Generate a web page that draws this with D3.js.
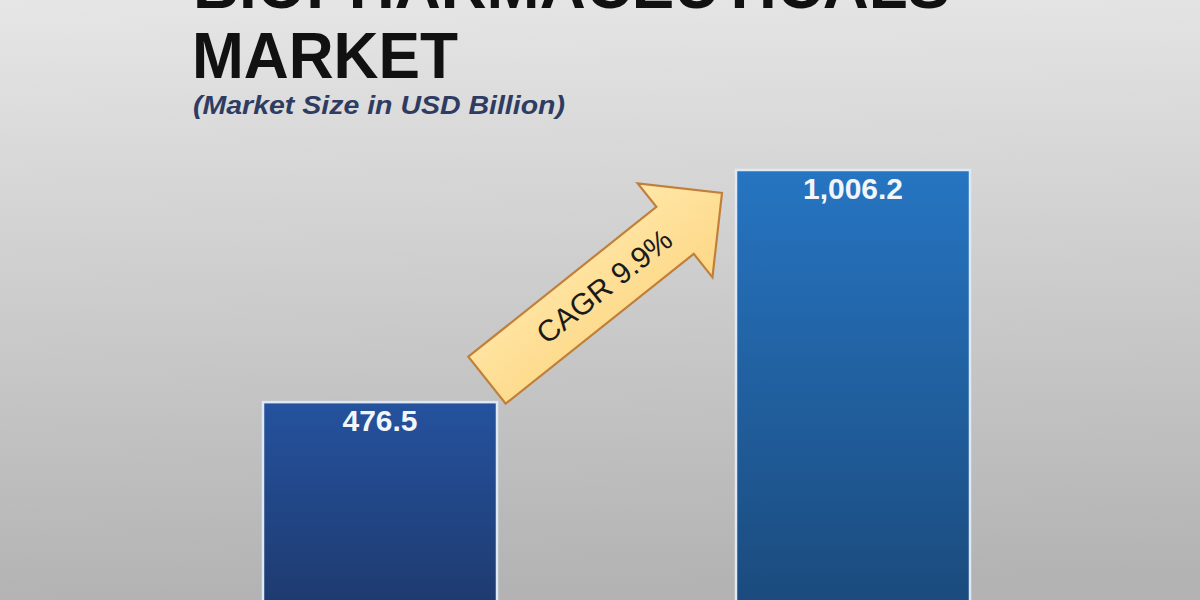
<!DOCTYPE html>
<html>
<head>
<meta charset="utf-8">
<script src="https://cdn.jsdelivr.net/npm/d3@7"></script>
<style>
  html, body { margin: 0; padding: 0; background: #ddd; }
  svg { display: block; }
</style>
</head>
<body>
<svg id="chart" width="1200" height="600"></svg>
<script>
// ---- data ----
const categories = ["Start year", "End year"];
const values = [476.5, 1006.2];
const valueLabels = ["476.5", "1,006.2"];
const titleLines = ["BIOPHARMACEUTICALS", "MARKET"];
const subtitle = "(Market Size in USD Billion)";
const cagrLabel = "CAGR 9.9%";

const W = 1200, H = 600;
const svg = d3.select("#chart");
const defs = svg.append("defs");

// background gradient
const bg = defs.append("linearGradient").attr("id", "bg")
  .attr("x1", 0).attr("y1", 0).attr("x2", 0.05).attr("y2", 1);
bg.append("stop").attr("offset", "0%").attr("stop-color", "#e6e6e6");
bg.append("stop").attr("offset", "100%").attr("stop-color", "#b3b3b3");
svg.append("rect").attr("width", W).attr("height", H).attr("fill", "url(#bg)");

// bar gradients
const barColors = [["#25529e", "#1e3a6e"], ["#2675c2", "#1b4a7c"]];
barColors.forEach((c, i) => {
  const g = defs.append("linearGradient").attr("id", "bar" + i)
    .attr("x1", 0).attr("y1", 0).attr("x2", 0).attr("y2", 1);
  g.append("stop").attr("offset", "0%").attr("stop-color", c[0]);
  g.append("stop").attr("offset", "100%").attr("stop-color", c[1]);
});
const ag = defs.append("linearGradient").attr("id", "arrowFill")
  .attr("x1", 0).attr("y1", 0).attr("x2", 0).attr("y2", 1);
ag.append("stop").attr("offset", "0%").attr("stop-color", "#ffe7a8");
ag.append("stop").attr("offset", "100%").attr("stop-color", "#fdd785");

// scales
const x = d3.scaleBand().domain(categories).range([263, 970])
  .paddingInner(239 / 473).paddingOuter(0);
const y = d3.scaleLinear().domain([0, d3.max(values)]).range([611, 170]);

// titles (first line is cropped at the top edge, as in the reference)
svg.append("text").attr("x", 193).attr("y", 8)
  .attr("font-family", "Liberation Sans, Arial, sans-serif")
  .attr("font-weight", "bold").attr("font-size", 65).attr("fill", "#111")
  .attr("textLength", 757).attr("lengthAdjust", "spacingAndGlyphs")
  .text(titleLines[0]);
svg.append("text").attr("x", 192).attr("y", 78)
  .attr("font-family", "Liberation Sans, Arial, sans-serif")
  .attr("font-weight", "bold").attr("font-size", 65).attr("fill", "#111")
  .attr("textLength", 266).attr("lengthAdjust", "spacingAndGlyphs")
  .text(titleLines[1]);
svg.append("text").attr("x", 193).attr("y", 114)
  .attr("font-family", "Liberation Sans Narrow, Liberation Sans, Arial, sans-serif")
  .attr("font-weight", "bold").attr("font-style", "italic")
  .attr("font-size", 26).attr("fill", "#2e3c62")
  .attr("textLength", 372).attr("lengthAdjust", "spacingAndGlyphs")
  .text(subtitle);

// bars
const bars = svg.append("g");
bars.selectAll("rect").data(values).join("rect")
  .attr("x", (d, i) => x(categories[i]))
  .attr("y", d => y(d))
  .attr("width", x.bandwidth())
  .attr("height", d => y(0) - y(d))
  .attr("fill", (d, i) => `url(#bar${i})`)
  .attr("stroke", "#dde9f6").attr("stroke-width", 2.5);

bars.selectAll("text").data(values).join("text")
  .attr("x", (d, i) => x(categories[i]) + x.bandwidth() / 2)
  .attr("y", d => y(d) + 29)
  .attr("text-anchor", "middle")
  .attr("font-family", "Liberation Sans, Arial, sans-serif")
  .attr("font-weight", "bold").attr("font-size", 30).attr("fill", "#f2f6fb")
  .text((d, i) => valueLabels[i]);

// CAGR arrow, anchored to the bars via the scales
const tail = [x(categories[0]) + x.bandwidth() - 10, y(values[0]) - 22];
const tip = [x(categories[1]) - 14, y(values[1]) + 23];
const dx = tip[0] - tail[0], dy = tip[1] - tail[1];
const L = Math.hypot(dx, dy);
const ang = Math.atan2(dy, dx) * 180 / Math.PI;
const sw = 30, hw = 60, hl = 60;
const arrowPts = [[0, -sw], [L - hl, -sw], [L - hl, -hw], [L, 0], [L - hl, hw], [L - hl, sw], [0, sw]];
const arrow = svg.append("g")
  .attr("transform", `translate(${tail[0]},${tail[1]}) rotate(${ang})`);
arrow.append("path")
  .attr("d", d3.line()(arrowPts) + "Z")
  .attr("fill", "url(#arrowFill)")
  .attr("stroke", "#c0803a").attr("stroke-width", 2.2)
  .attr("stroke-linejoin", "miter");
arrow.append("text")
  .attr("x", L * 0.5).attr("y", 10)
  .attr("text-anchor", "middle")
  .attr("font-family", "Liberation Sans, Arial, sans-serif")
  .attr("font-size", 30).attr("fill", "#1a1a1a")
  .text(cagrLabel);
</script>
</body>
</html>
